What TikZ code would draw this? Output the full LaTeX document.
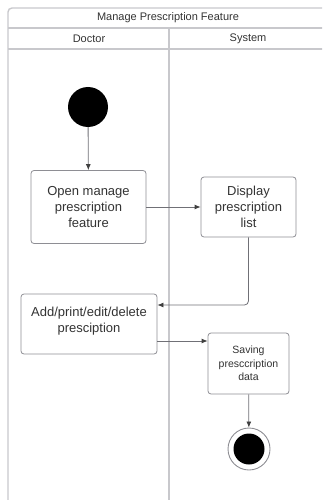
\documentclass[tikz,border=0pt]{standalone}
\usepackage{fontspec}
\setmainfont{Liberation Sans}
\usetikzlibrary{arrows.meta,calc}
\definecolor{framegray}{HTML}{C8C8CC}
\definecolor{boxgray}{HTML}{8E8E94}
\definecolor{linegray}{HTML}{707076}
\definecolor{textgray}{HTML}{333333}
\tikzset{
  lane/.style={draw=framegray, line width=1.4pt},
  action/.style={draw=boxgray, line width=0.8pt, rounded corners=3pt, fill=white,
    align=center, text=textgray, inner sep=2pt},
  bigtxt/.style={font=\fontsize{13}{16}\selectfont},
  smalltxt/.style={font=\fontsize{10.5}{13.5}\selectfont},
  hdr/.style={text=textgray, font=\fontsize{11}{13}\selectfont},
  flow/.style={draw=linegray, line width=0.8pt,
    -{Latex[length=6pt,width=5pt,color=black!75]}},
}
\begin{document}
\begin{tikzpicture}[x=1pt,y=-1pt]
\useasboundingbox (0,0) rectangle (322,500);
\clip (0,0) rectangle (322,500);

% swimlane frame
\draw[lane, rounded corners=4pt] (340,8) -- (8,8) -- (8,520);
\draw[lane] (8,28) -- (340,28);
\draw[lane] (8,49) -- (340,49);
\draw[lane] (169,28) -- (169,520);
\node[hdr] (title) at (168,18) {Manage Prescription Feature};
\node[hdr] (doctor) at (89,38.5) {Doctor};
\node[hdr] (system) at (248,38.5) {System};

% start and end states
\node[circle, fill=black, minimum size=40pt, inner sep=0pt] (start) at (88,107) {};
\node[circle, draw=boxgray, line width=0.9pt, fill=white, minimum size=42pt, inner sep=0pt] (final) at (249,449) {};
\node[circle, fill=black, minimum size=31pt, inner sep=0pt] (finaldot) at (249,449) {};

% actions
\node[action, bigtxt, minimum width=115pt, minimum height=73pt] (open) at (88.5,207)
  {Open manage\\prescription\\feature};
\node[action, bigtxt, minimum width=95pt, minimum height=60pt] (display) at (248.5,207)
  {Display\\prescription\\list};
\node[action, bigtxt, minimum width=136pt, minimum height=60pt, text depth=8pt] (edit) at (89,324)
  {Add/print/edit/delete\\presciption};
\node[action, smalltxt, minimum width=81pt, minimum height=61pt] (save) at (248.5,363.5)
  {Saving\\presccription\\data};

% control flow
\draw[flow] (start) -- (open);
\draw[flow] (open) -- (display);
\draw[flow, rounded corners=4pt] (display.south) -- (display.south |- 0,305) -- (edit.east |- 0,305);
\draw[flow] (edit.east |- 0,341) -- (save.west |- 0,341);
\draw[flow] (save) -- (final);
\end{tikzpicture}
\end{document}
